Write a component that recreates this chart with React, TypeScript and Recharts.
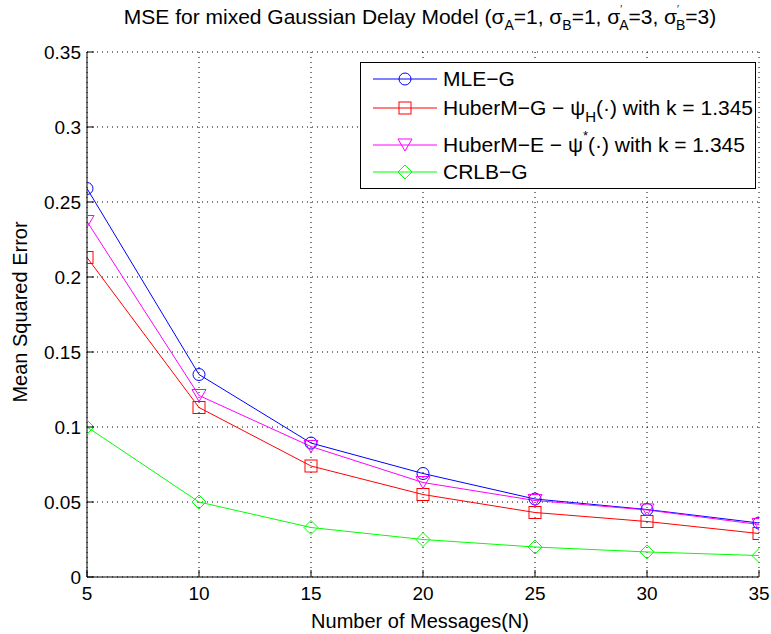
import { LineChart, Line, XAxis, YAxis, CartesianGrid } from 'recharts';

const FONT = '"Liberation Sans", Arial, Helvetica, sans-serif';

const messages = [5, 10, 15, 20, 25, 30, 35];
const mleG = [0.259, 0.135, 0.0893, 0.069, 0.052, 0.045, 0.036];
const huberG = [0.213, 0.113, 0.074, 0.055, 0.043, 0.037, 0.029];
const huberE = [0.237, 0.121, 0.087, 0.063, 0.051, 0.0447, 0.035];
const crlbG = [0.1, 0.05, 0.033, 0.025, 0.02, 0.0167, 0.0143];

const xTicks = [5, 10, 15, 20, 25, 30, 35];
const yTicks = [0, 0.05, 0.1, 0.15, 0.2, 0.25, 0.3, 0.35];

const data = messages.map((n, i) => ({
  n,
  mle: mleG[i],
  hg: huberG[i],
  he: huberE[i],
  crlb: crlbG[i],
}));

type Shape = 'circle' | 'square' | 'tri' | 'diamond';

function Marker({ cx, cy, color, shape }: { cx: number; cy: number; color: string; shape: Shape }) {
  if (shape === 'circle') return <circle cx={cx} cy={cy} r={6} fill="none" stroke={color} />;
  if (shape === 'square') return <rect x={cx - 6} y={cy - 6} width={12} height={12} fill="none" stroke={color} />;
  if (shape === 'tri')
    return <polygon points={`${cx - 7},${cy - 6} ${cx + 7},${cy - 6} ${cx},${cy + 6}`} fill="none" stroke={color} />;
  return <polygon points={`${cx},${cy - 7} ${cx + 7},${cy} ${cx},${cy + 7} ${cx - 7},${cy}`} fill="none" stroke={color} />;
}

const series: Array<{ key: string; color: string; shape: Shape }> = [
  { key: 'mle', color: '#0000ff', shape: 'circle' },
  { key: 'hg', color: '#ff0000', shape: 'square' },
  { key: 'he', color: '#ff00ff', shape: 'tri' },
  { key: 'crlb', color: '#00ff00', shape: 'diamond' },
];

function BottomTick(props: any) {
  const { x, y, payload } = props;
  return (
    <g>
      <line x1={x} y1={y} x2={x} y2={y - 7} stroke="#000" />
      <text x={x} y={y + 23} textAnchor="middle" fontSize={19} fontFamily={FONT} fill="#000">
        {String(payload.value)}
      </text>
    </g>
  );
}

function TopTick(props: any) {
  const { x, y } = props;
  return <line x1={x} y1={y} x2={x} y2={y + 7} stroke="#000" />;
}

function LeftTick(props: any) {
  const { x, y, payload } = props;
  return (
    <g>
      <line x1={x} y1={y} x2={x + 7} y2={y} stroke="#000" />
      <text x={x - 6} y={y + 7} textAnchor="end" fontSize={19} fontFamily={FONT} fill="#000">
        {String(payload.value)}
      </text>
    </g>
  );
}

function RightTick(props: any) {
  const { x, y } = props;
  return <line x1={x} y1={y} x2={x - 7} y2={y} stroke="#000" />;
}

function Overlay() {
  const rows = [
    { y: 79, s: series[0] },
    { y: 108, s: series[1] },
    { y: 145, s: series[2] },
    { y: 172, s: series[3] },
  ];
  return (
    <svg width={771} height={634} style={{ position: 'absolute', left: 0, top: 0, pointerEvents: 'none' }}>
      <text x={420} y={24} textAnchor="middle" fontSize={21} fontFamily={FONT} fill="#000">
        MSE for mixed Gaussian Delay Model (σ
        <tspan fontSize={14} dy={6}>A</tspan>
        <tspan dy={-6}>=1, σ</tspan>
        <tspan fontSize={14} dy={6}>B</tspan>
        <tspan dy={-6}>=1, σ</tspan>
        <tspan fontSize={10} dy={-11}>′</tspan>
        <tspan fontSize={14} dx={-3} dy={17}>A</tspan>
        <tspan dy={-6}>=3, σ</tspan>
        <tspan fontSize={10} dy={-11}>′</tspan>
        <tspan fontSize={14} dx={-3} dy={17}>B</tspan>
        <tspan dy={-6}>=3)</tspan>
      </text>
      <text x={420} y={628} textAnchor="middle" fontSize={20} fontFamily={FONT} fill="#000">
        Number of Messages(N)
      </text>
      <text
        x={0}
        y={0}
        transform="translate(27,312) rotate(-90)"
        textAnchor="middle"
        fontSize={20}
        fontFamily={FONT}
        fill="#000"
      >
        Mean Squared Error
      </text>
      <rect x={360.5} y={62.5} width={395} height={126} fill="#fff" stroke="#000" />
      {rows.map((r) => (
        <g key={r.s.key}>
          <line x1={373} y1={r.y} x2={437} y2={r.y} stroke={r.s.color} />
          <Marker cx={405} cy={r.y} color={r.s.color} shape={r.s.shape} />
        </g>
      ))}
      <text x={443} y={rows[0].y + 7} fontSize={21} fontFamily={FONT} fill="#000">MLE−G</text>
      <text x={443} y={rows[1].y + 7} fontSize={21} fontFamily={FONT} fill="#000">
        HuberM−G − ψ<tspan fontSize={15} dy={7}>H</tspan>
        <tspan dy={-7}>(·) with k = 1.345</tspan>
      </text>
      <text x={443} y={rows[2].y + 7} fontSize={21} fontFamily={FONT} fill="#000">
        HuberM−E − ψ<tspan fontSize={13} dy={-12}>*</tspan>
        <tspan dy={12}>(·) with k = 1.345</tspan>
      </text>
      <text x={443} y={rows[3].y + 7} fontSize={21} fontFamily={FONT} fill="#000">CRLB−G</text>
    </svg>
  );
}

export default function App() {
  return (
    <div style={{ position: 'absolute', left: 0, top: 0, width: 771, height: 634, background: '#fff' }}>
      <LineChart width={771} height={634} data={data} margin={{ top: 52, right: 12, bottom: 0, left: 0 }}>
        <CartesianGrid stroke="#000" strokeDasharray="1 4" horizontalValues={yTicks} verticalValues={xTicks} />
        <XAxis
          dataKey="n"
          type="number"
          domain={[5, 35]}
          ticks={xTicks}
          height={57}
          tickSize={0}
          tickMargin={0}
          stroke="#000"
          tick={<BottomTick />}
          allowDataOverflow
        />
        <XAxis
          xAxisId="top"
          orientation="top"
          dataKey="n"
          type="number"
          domain={[5, 35]}
          ticks={xTicks}
          height={0}
          tickSize={0}
          tickMargin={0}
          stroke="#000"
          tick={<TopTick />}
          allowDataOverflow
        />
        <YAxis
          type="number"
          domain={[0, 0.35]}
          ticks={yTicks}
          width={87}
          tickSize={0}
          tickMargin={0}
          stroke="#000"
          tick={<LeftTick />}
          allowDataOverflow
        />
        <YAxis
          yAxisId="right"
          orientation="right"
          type="number"
          domain={[0, 0.35]}
          ticks={yTicks}
          width={0}
          tickSize={0}
          tickMargin={0}
          stroke="#000"
          tick={<RightTick />}
          allowDataOverflow
        />
        {series.map((s) => (
          <Line
            key={s.key}
            dataKey={s.key}
            stroke={s.color}
            strokeWidth={1}
            isAnimationActive={false}
            dot={(p: any) => <Marker key={`${s.key}-${p.index}`} cx={p.cx} cy={p.cy} color={s.color} shape={s.shape} />}
            activeDot={false}
          />
        ))}
      </LineChart>
      <Overlay />
    </div>
  );
}
